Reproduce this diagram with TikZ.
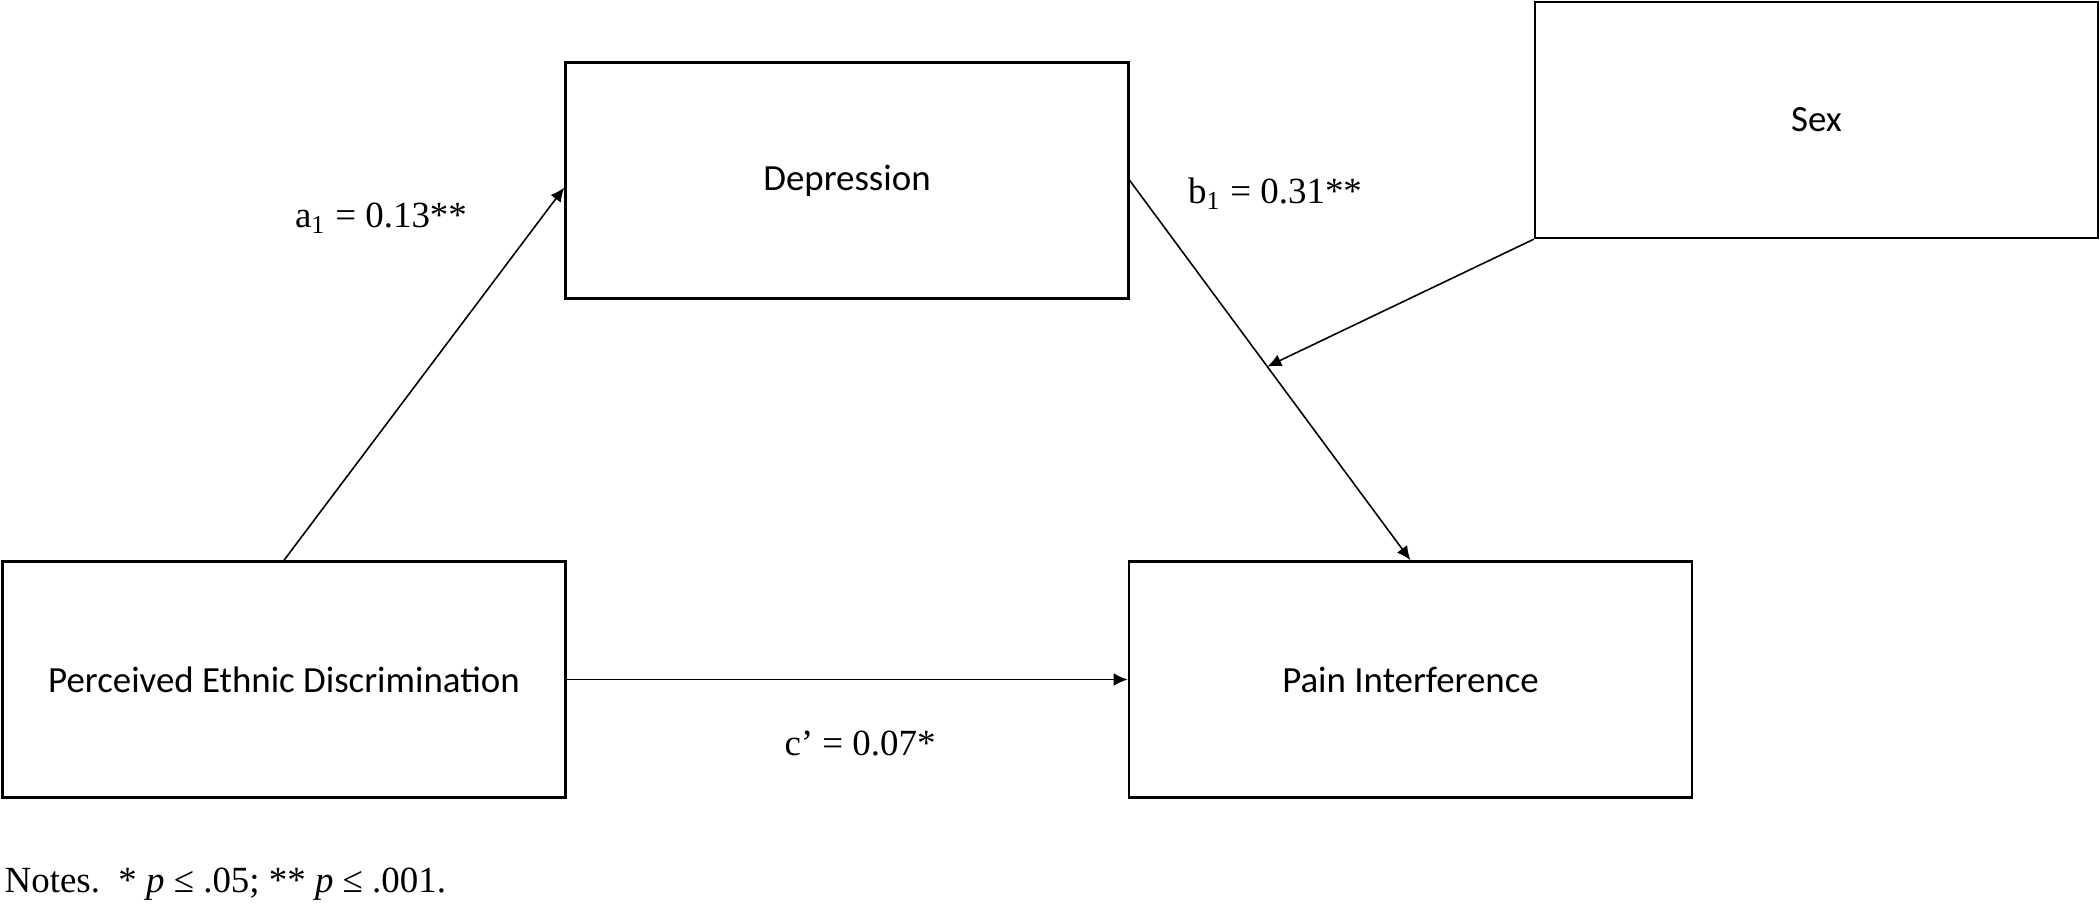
\documentclass[tikz,border=0pt]{standalone}
\usepackage{fontspec}
\setmainfont{Liberation Serif}
\newfontfamily\boxfont{Carlito}
\usetikzlibrary{arrows.meta}

\tikzset{
	varbox/.style={draw, line width=0.7pt, minimum width=5.63cm, minimum height=2.36cm, inner sep=0pt, font=\boxfont\fontsize{10.5}{12}\selectfont},
	conn/.style={line width=0.45pt, -{Latex[length=4pt,width=3.6pt]}},
	coef/.style={font=\fontsize{10.5}{12}\selectfont}
}

\begin{document}
\begin{tikzpicture}
		%%%%% START %%%%%
		
		\useasboundingbox (0, 0) rectangle (21, 9.06);
		
		\node[varbox] (dep) at (8.47, 7.255) {Depression};
		\node[varbox] (sex) at (18.165, 7.86) {Sex};
		\node[varbox] (ped) at (2.84, 2.265) {Perceived Ethnic Discrimination};
		\node[varbox] (pain) at (14.105, 2.265) {Pain Interference};
		
		\draw[conn] (ped.north) -- ([yshift=-2pt]dep.west);
		\draw[conn] (dep.east) -- coordinate[pos=0.49] (mod) (pain.north);
		\draw[conn] (sex.south west) -- (mod);
		\draw[conn] (ped.east) -- (pain.west);
		
		\node[coef] (alab) at (3.81, 6.88) {a\textsubscript{1} = 0.13**};
		\node[coef] (blab) at (12.75, 7.12) {b\textsubscript{1} = 0.31**};
		\node[coef] (clab) at (8.60, 1.63) {c’ = 0.07*};
		
		\node[coef, anchor=west, inner sep=0pt] (notes) at (0.04, 0.22) {Notes.\ \ * \textit{p} ≤ .05; ** \textit{p} ≤ .001.};
		
		%%%%% END %%%%%
	\end{tikzpicture}
\end{document}
